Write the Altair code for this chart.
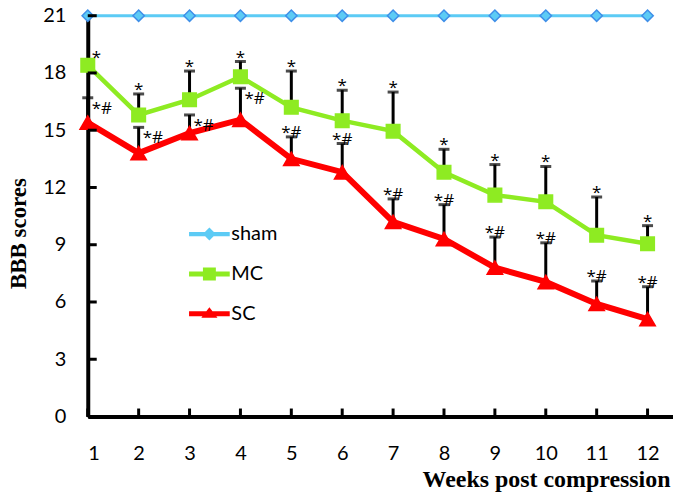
import altair as alt
import pandas as pd

weeks = list(range(1, 13))
series = ["sham", "MC", "SC"]
sham = [21] * 12
mc = [18.4, 15.8, 16.6, 17.8, 16.2, 15.5, 14.95, 12.8, 11.6, 11.25, 9.5, 9.05]
mc_top = [18.7, 16.9, 18.1, 18.6, 18.1, 17.1, 17.0, 14.0, 13.2, 13.1, 11.5, 10.0]
sc = [15.4, 13.8, 14.85, 15.55, 13.5, 12.8, 10.2, 9.3, 7.8, 7.05, 5.9, 5.1]
sc_top = [16.7, 15.15, 15.8, 17.2, 14.65, 14.3, 11.4, 11.1, 9.4, 9.1, 7.1, 6.8]
mc_marks = ["*"] * 12
sc_marks = ["*#"] * 12
y_ticks = [0, 3, 6, 9, 12, 15, 18, 21]

line_colors = ["#5CCBF5", "#8EEB22", "#FF0000"]
point_strokes = ["#3F8FE8", "#8EEB22", "#FF0000"]

rows = []
for i, w in enumerate(weeks):
    rows.append({"week": w, "series": "sham", "value": sham[i], "top": sham[i], "mark": ""})
    rows.append({"week": w, "series": "MC", "value": mc[i], "top": mc_top[i], "mark": mc_marks[i]})
    rows.append({"week": w, "series": "SC", "value": sc[i], "top": sc_top[i], "mark": sc_marks[i]})
df = pd.DataFrame(rows)
ticks_df = pd.DataFrame({"t": y_ticks})
wk_df = pd.DataFrame({"week": weeks})

LABEL_FONT = "Lato"
MARK_FONT = "Open Sans"
TITLE_FONT = "Liberation Serif"

xscale = alt.Scale(domain=[1, 12.5], nice=False, zero=False)
yscale = alt.Scale(domain=[0, 21], nice=False)

xenc = alt.X("week:Q", scale=xscale, axis=alt.Axis(
    values=weeks, tickSize=0, labelPadding=27, labelFontSize=20, labelFont=LABEL_FONT,
    labelColor="black", domainColor="black", domainWidth=4, grid=False,
    title="Weeks post compression", titleFont=TITLE_FONT, titleFontSize=24,
    titleFontWeight="bold", titleAnchor="end", titleAlign="right", titleBaseline="alphabetic",
    titleX=584, titleY=70, titleColor="black"))
yenc = alt.Y("value:Q", scale=yscale, axis=alt.Axis(
    values=y_ticks, tickSize=0, labelPadding=22, labelFontSize=20, labelFont=LABEL_FONT,
    labelColor="black", domainColor="black", domainWidth=4, grid=False,
    title="BBB scores", titleFont=TITLE_FONT, titleFontSize=23, titleFontWeight="bold",
    titleX=-69, titleY=218, titleAlign="center", titleBaseline="middle", titleAngle=-90,
    titleColor="black"))

base = alt.Chart(df)
err_data = base.transform_filter("datum.series != 'sham'")

err = err_data.mark_rule(color="black", strokeWidth=3).encode(
    x=alt.X("week:Q", scale=xscale), y=alt.Y("value:Q", scale=yscale), y2="top:Q")
caps = err_data.mark_tick(color="black", orient="horizontal", size=11, thickness=3).encode(
    x=alt.X("week:Q", scale=xscale), y=alt.Y("top:Q", scale=yscale))

lines = base.mark_line().encode(
    x=xenc, y=yenc,
    color=alt.Color("series:N", scale=alt.Scale(domain=series, range=line_colors), legend=None),
    strokeWidth=alt.StrokeWidth("series:N", scale=alt.Scale(domain=series, range=[3, 6, 6]), legend=None),
    detail="series:N")

pts = base.mark_point(filled=True, opacity=1, strokeWidth=1.5).encode(
    x=alt.X("week:Q", scale=xscale), y=alt.Y("value:Q", scale=yscale),
    fill=alt.Fill("series:N", scale=alt.Scale(domain=series, range=line_colors), legend=None),
    stroke=alt.Stroke("series:N", scale=alt.Scale(domain=series, range=point_strokes), legend=None),
    shape=alt.Shape("series:N", scale=alt.Scale(domain=series, range=["diamond", "square", "triangle-up"]), legend=None),
    size=alt.Size("series:N", scale=alt.Scale(domain=series, range=[130, 240, 290]), legend=None))

txt_center = err_data.transform_filter(
    "(datum.series == 'MC' && datum.week > 1) || (datum.series == 'SC' && datum.week > 4)"
).mark_text(font=MARK_FONT, fontSize=17, color="black", align="center", baseline="alphabetic", dy=1).encode(
    x=alt.X("week:Q", scale=xscale), y=alt.Y("top:Q", scale=yscale), text="mark:N")
txt_right_sc = err_data.transform_filter("datum.series == 'SC' && datum.week <= 4").mark_text(
    font=MARK_FONT, fontSize=17, color="black", align="left", baseline="alphabetic", dx=4, dy=16).encode(
    x=alt.X("week:Q", scale=xscale), y=alt.Y("top:Q", scale=yscale), text="mark:N")
txt_right_mc = err_data.transform_filter("datum.series == 'MC' && datum.week == 1").mark_text(
    font=MARK_FONT, fontSize=17, color="black", align="left", baseline="alphabetic", dx=4, dy=3).encode(
    x=alt.X("week:Q", scale=xscale), y=alt.Y("top:Q", scale=yscale), text="mark:N")

ytick_marks = alt.Chart(ticks_df).mark_rule(color="black", strokeWidth=3).encode(
    y=alt.Y("t:Q", scale=yscale), x=alt.value(0), x2=alt.value(9))
xtick_marks = alt.Chart(wk_df).mark_rule(color="black", strokeWidth=3).encode(
    x=alt.X("week:Q", scale=xscale), y=alt.value(402), y2=alt.value(394))

# legend symbols: line segment + marker
p_sham = "M-3.4,-0.35H3.4V0.35H-3.4Z M0,-1.08L1.08,0L0,1.08L-1.08,0Z"
p_mc = "M-3.4,-0.42H3.4V0.42H-3.4Z M-1.08,-1.08H1.08V1.08H-1.08Z"
p_sc = "M-3.4,-0.42H3.4V0.42H-3.4Z M0,-1.1L1.35,0.65H-1.35Z"
leg_df = pd.DataFrame({"lg": series, "v": [0, 0, 0]})
leg_props = dict(
    title=None, orient="none", legendX=112, legendY=209, padding=0, symbolSize=144,
    labelFont=LABEL_FONT, labelFontSize=20, labelColor="black", labelOffset=12,
    rowPadding=20, symbolStrokeWidth=0, symbolOpacity=1)
legend_layer = alt.Chart(leg_df).transform_filter("datum.v > 1").mark_point(filled=True, opacity=1, strokeWidth=0).encode(
    x=alt.X("v:Q", scale=xscale), y=alt.Y("v:Q", scale=yscale),
    color=alt.Color("lg:N", scale=alt.Scale(domain=series, range=line_colors), legend=alt.Legend(**leg_props)),
    shape=alt.Shape("lg:N", scale=alt.Scale(domain=series, range=[p_sham, p_mc, p_sc]), legend=alt.Legend(**leg_props)))

chart = alt.layer(
    err, caps, lines, pts, txt_center, txt_right_sc, txt_right_mc, ytick_marks, xtick_marks, legend_layer
).resolve_scale(color="independent", shape="independent").properties(
    width=587, height=402,
    autosize=alt.AutoSizeParams(type="none"),
    padding={"left": 80, "top": 7, "right": 0, "bottom": 77},
    background="white",
).configure_view(stroke=None)

chart.save("out.html", embed_options={"renderer": "svg", "actions": False})
